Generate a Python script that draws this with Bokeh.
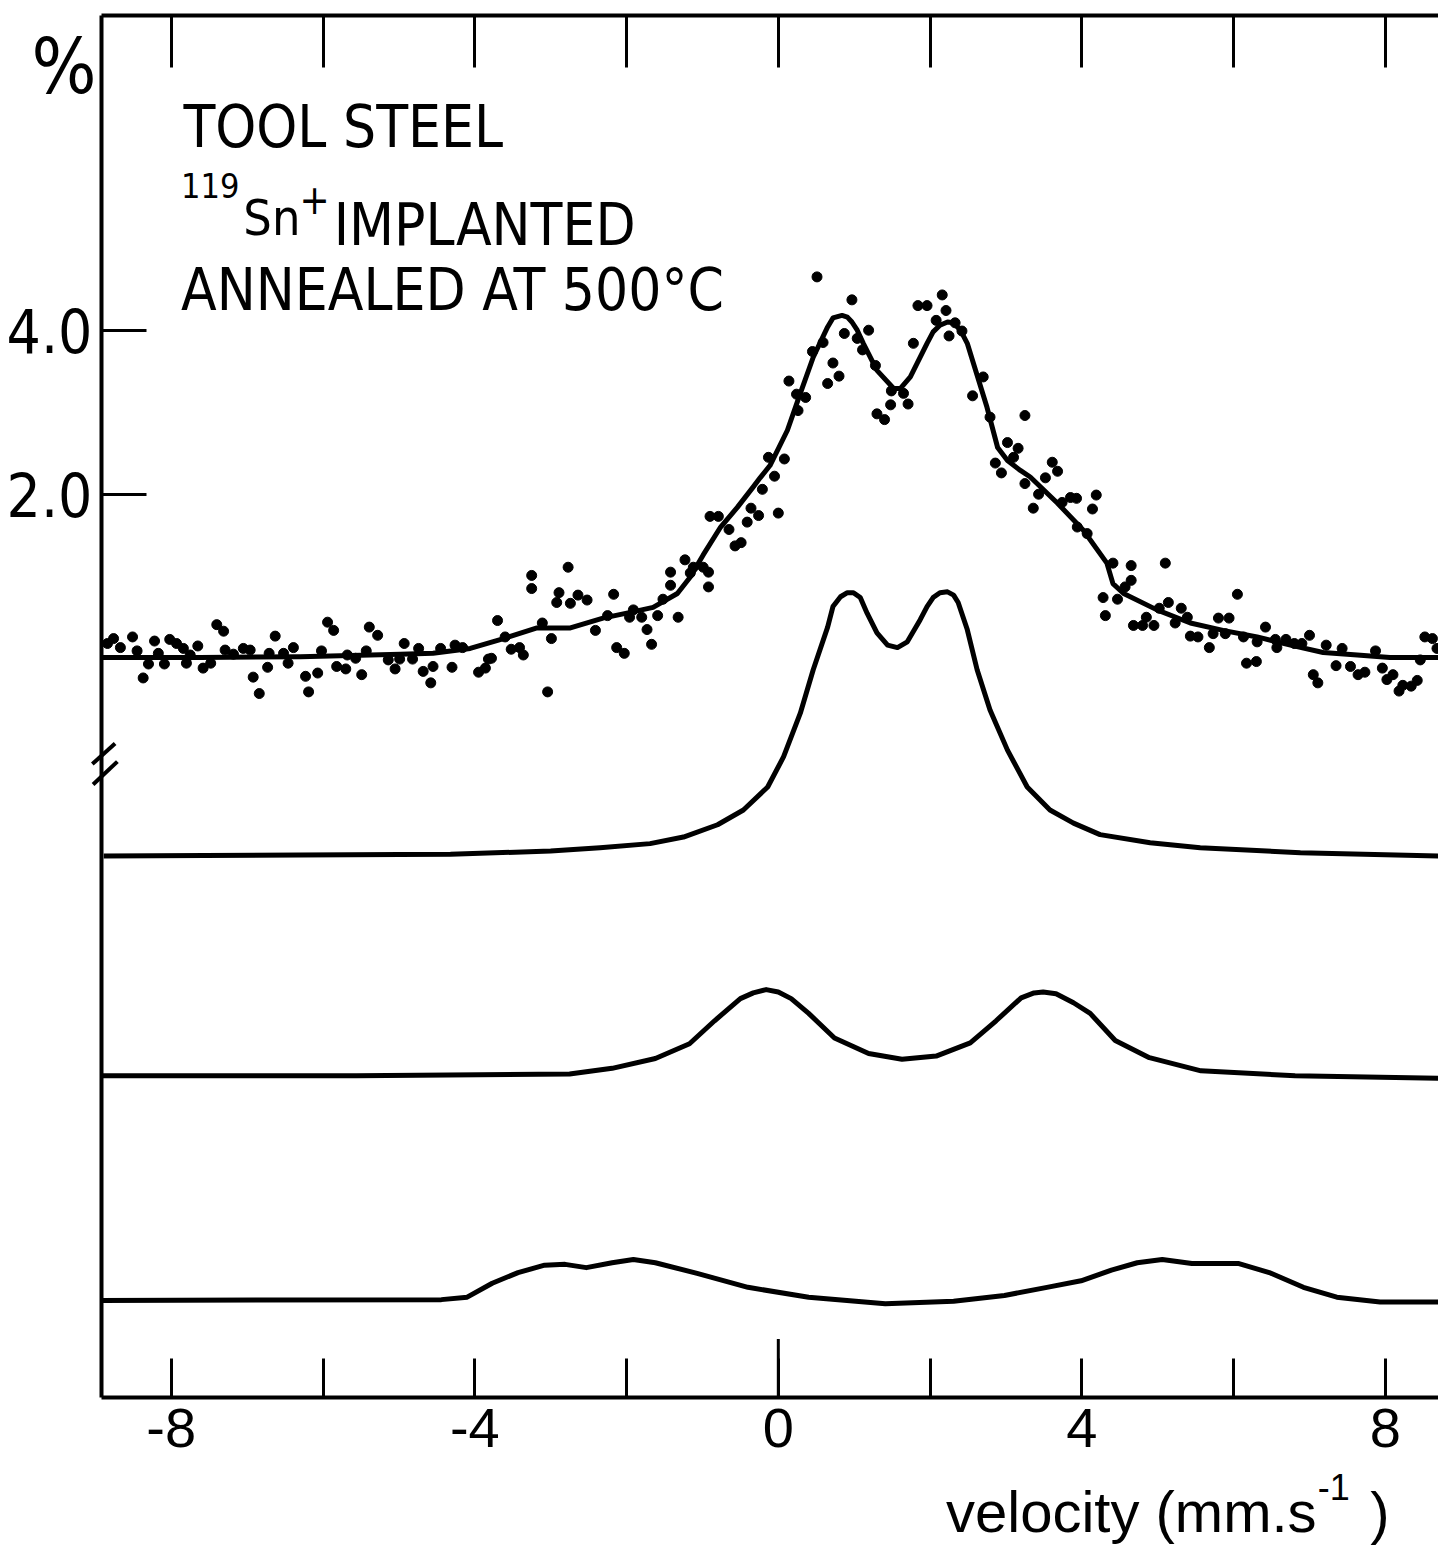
from bokeh.plotting import figure
from bokeh.models import LinearAxis, FixedTicker, NumeralTickFormatter, Label, Arrow, Range1d
from bokeh.embed import file_html
from bokeh.resources import INLINE

# ---------------- data (velocity in mm/s, absorption in %) ----------------
fit_v = [-8.92, -7.62, -6.30, -4.98, -4.55, -4.06, -3.62, -3.18, -2.74, -2.31, -1.95, -1.65, -1.33, -1.16,
         -0.99, -0.76, -0.54, -0.33, -0.24, -0.11, 0.12, 0.29, 0.46, 0.65, 0.72, 0.84, 0.91, 0.97, 1.04,
         1.12, 1.30, 1.52, 1.61, 1.74, 1.96, 2.04, 2.13, 2.23, 2.31, 2.40, 2.49, 2.57, 2.75, 2.89, 3.02,
         3.19, 3.32, 3.68, 4.02, 4.33, 4.41, 4.55, 4.99, 5.43, 5.86, 6.31, 6.75, 7.18, 7.63, 8.06, 8.70]
fit_pct = [0.01, 0.01, 0.02, 0.05, 0.06, 0.12, 0.24, 0.37, 0.37, 0.49, 0.56, 0.62, 0.79, 0.99,
           1.26, 1.60, 1.84, 2.09, 2.20, 2.35, 2.78, 3.23, 3.67, 4.04, 4.15, 4.18, 4.16, 4.10, 4.00,
           3.84, 3.51, 3.29, 3.29, 3.43, 3.84, 3.98, 4.06, 4.10, 4.09, 4.00, 3.84, 3.60, 3.06, 2.57, 2.41,
           2.29, 2.21, 1.89, 1.56, 1.16, 0.91, 0.79, 0.59, 0.43, 0.34, 0.26, 0.16, 0.07, 0.04, 0.01, 0.01]

dots_v = [-8.76, -8.84, -8.67, -8.51, -8.45, -8.37, -8.30, -8.22, -8.17, -8.09, -8.02, -7.93, -7.84, -7.80,
          -7.75, -7.65, -7.58, -7.48, -7.40, -7.31, -7.29, -7.18, -7.05, -6.96, -6.92, -6.84, -6.73, -6.71,
          -6.63, -6.52, -6.46, -6.39, -6.23, -6.19, -6.07, -6.02, -5.94, -5.86, -5.82, -5.70, -5.68, -5.57,
          -5.49, -5.43, -5.39, -5.28, -5.14, -5.05, -4.99, -4.93, -4.82, -4.74, -4.68, -4.58, -4.55, -4.45,
          -4.30, -4.26, -4.16, -3.95, -3.86, -3.82,
          -3.78, -3.70, -3.60, -3.52, -3.41, -3.36, -3.25, -3.25, -3.11, -3.04, -2.99, -2.92, -2.89, -2.77,
          -2.74, -2.64, -2.52, -2.41, -2.25, -2.17, -2.13, -2.03, -1.96, -1.91, -1.80, -1.73, -1.67, -1.59,
          -1.52, -1.42, -1.42, -1.32, -1.23, -1.16, -1.12, -0.99, -0.92, -0.92, -0.90, -0.79, -0.65, -0.57,
          -0.49, -0.41, -0.36, -0.26, -0.21, -0.05, 0.00, -0.13, 0.08,
          0.14, 0.24, 0.26, 0.36, 0.45, 0.51, 0.59, 0.65, 0.72, 0.80, 0.87, 0.97, 1.04, 1.11, 1.19, 1.28,
          1.30, 1.40, 1.48, 1.49, 1.65, 1.71, 1.78, 1.84, 1.96, 2.08, 2.16, 2.21, 2.25, 2.33, 2.42, 2.70,
          2.56, 2.79, 2.86, 2.94, 3.02, 3.10, 3.16,
          3.25, 3.61, 3.68, 3.52, 3.25, 3.43, 3.36, 3.85, 3.93, 3.74, 4.19, 4.14, 3.94, 4.07, 4.41, 4.65,
          4.65, 5.10, 4.28, 4.47, 4.31, 4.57, 4.68, 4.80, 4.85, 4.95, 5.02, 5.14, 5.23, 5.31, 5.39, 5.43,
          5.53, 5.68, 5.73, 5.80, 5.89, 5.94, 6.05, 6.13, 6.17, 6.30, 6.31, 6.42, 6.55, 6.57, 6.69, 6.80,
          6.90, 7.00, 7.05, 7.11, 7.22, 7.35, 7.43, 7.54, 7.64, 7.73, 7.87, 7.96, 8.02, 8.10, 8.18, 8.23,
          8.34, 8.42, 8.46, 8.52, 8.62, 8.68]
dots_pct = [0.24, 0.18, 0.13, 0.26, 0.09, -0.24, -0.07, 0.21, 0.06, -0.07, 0.23, 0.18, 0.12, -0.06,
            0.04, 0.15, -0.12, -0.06, 0.41, 0.33, 0.10, 0.05, 0.12, 0.10, -0.23, -0.43, -0.11, 0.06,
            0.27, 0.06, -0.06, 0.13, -0.22, -0.41, -0.18, 0.09, 0.44, 0.34, -0.10, -0.13, 0.04, 0.00,
            -0.20, 0.09, 0.38, 0.28, -0.02, -0.13, -0.01, 0.18, -0.01, 0.12, -0.16, -0.30, -0.10, 0.12,
            -0.11, 0.16, 0.13, -0.17, -0.12, -0.01,
            0.00, 0.46, 0.26, 0.11, 0.13, 0.04, 1.01, 0.85, 0.43, -0.41, 0.24, 0.68, 0.80, 1.11,
            0.67, 0.77, 0.71, 0.34, 0.52, 0.78, 0.13, 0.06, 0.50, 0.59, 0.50, 0.35, 0.17, 0.52,
            0.72, 1.05, 0.89, 0.50, 1.20, 1.04, 1.11, 1.11, 1.05, 0.87, 1.73, 1.73, 1.57, 1.37,
            1.41, 1.66, 1.83, 1.74, 2.06, 2.22, 1.77, 2.45, 2.43,
            3.38, 3.22, 3.02, 3.18, 3.74, 4.65, 3.85, 3.35, 3.60, 3.44, 3.96, 4.37, 3.90, 3.76, 4.00, 3.57,
            2.98, 2.91, 3.09, 3.26, 3.23, 3.10, 3.84, 4.30, 4.30, 4.12, 4.43, 4.24, 3.93, 4.09, 3.99, 3.43,
            3.20, 2.94, 2.38, 2.26, 2.63, 2.45, 2.56,
            2.96, 2.39, 2.28, 2.20, 2.13, 2.00, 1.83, 1.96, 1.95, 1.90, 1.99, 1.82, 1.60, 1.52, 1.16, 1.13,
            0.95, 1.16, 0.74, 0.72, 0.52, 0.87, 0.40, 0.40, 0.50, 0.40, 0.61, 0.68, 0.43, 0.61, 0.50, 0.27,
            0.26, 0.13, 0.30, 0.49, 0.30, 0.49, 0.78, 0.26, -0.06, -0.04, 0.20, 0.38, 0.23, 0.13, 0.23, 0.18,
            0.18, 0.28, -0.20, -0.30, 0.16, -0.09, 0.12, -0.10, -0.20, -0.17, 0.09, -0.12, -0.26, -0.20, -0.40, -0.33,
            -0.34, -0.27, -0.02, 0.26, 0.24, 0.12]

# component sub-spectra (height above their own baseline, %)
c1_v = [-8.89, -6.30, -4.32, -3.00, -2.35, -1.69, -1.25, -0.80, -0.46, -0.14, 0.07, 0.29, 0.46, 0.65,
        0.72, 0.82, 0.91, 0.99, 1.08, 1.17, 1.30, 1.44, 1.57, 1.70, 1.87, 1.96, 2.04, 2.13, 2.23, 2.31,
        2.37, 2.49, 2.62, 2.79, 3.02, 3.28, 3.58, 3.89, 4.24, 4.90, 5.56, 6.88, 8.70]
c1_pct = [0.0, 0.01, 0.02, 0.06, 0.10, 0.15, 0.23, 0.38, 0.56, 0.84, 1.21, 1.74, 2.27, 2.79,
          3.04, 3.16, 3.21, 3.21, 3.15, 2.96, 2.72, 2.57, 2.54, 2.61, 2.88, 3.04, 3.15, 3.21, 3.22, 3.18,
          3.09, 2.76, 2.27, 1.78, 1.29, 0.84, 0.56, 0.40, 0.26, 0.16, 0.10, 0.04, 0.0]
c2_v = [-8.93, -5.56, -2.75, -2.19, -1.62, -1.17, -0.84, -0.50, -0.33, -0.16, 0.00, 0.17, 0.40, 0.74,
        1.19, 1.63, 2.08, 2.53, 2.87, 3.20, 3.37, 3.49, 3.66, 3.89, 4.11, 4.44, 4.89, 5.57, 6.81, 8.70]
c2_pct = [0.0, 0.0, 0.02, 0.09, 0.21, 0.39, 0.67, 0.94, 1.01, 1.05, 1.02, 0.94, 0.76, 0.46,
          0.27, 0.20, 0.24, 0.40, 0.67, 0.95, 1.01, 1.02, 1.00, 0.89, 0.76, 0.43, 0.22, 0.06, 0.0, -0.03]
c3_v = [-8.93, -4.44, -4.10, -3.77, -3.43, -3.08, -2.81, -2.53, -2.19, -1.91, -1.62, -1.07, -0.40, 0.40,
        1.41, 2.31, 2.98, 3.54, 3.99, 4.39, 4.73, 5.06, 5.45, 6.07, 6.47, 6.92, 7.36, 7.93, 8.70]
c3_pct = [0.0, 0.01, 0.04, 0.21, 0.34, 0.43, 0.44, 0.40, 0.46, 0.50, 0.46, 0.33, 0.16, 0.04,
          -0.04, -0.01, 0.06, 0.16, 0.24, 0.37, 0.46, 0.50, 0.45, 0.45, 0.34, 0.16, 0.04, -0.02, -0.02]

x_major_ticks = [-8, -4, 0, 4, 8]
x_minor_ticks = [-6, -2, 2, 6]
x_tick_labels = {-8: "-8", -4: "-4", 0: "0", 4: "4", 8: "8"}
y_ticks = [2.0, 4.0]

# ---------------- layout constants ----------------
CANVAS_X = (-10.25, 8.70)      # whole picture width in velocity units
CANVAS_Y = (-10.83, 8.02)      # whole picture height in % units
FRAME_X = (-8.92, 8.70)        # drawn box
FRAME_Y = (-9.01, 7.84)
comp_offsets = [-2.41, -5.09, -7.83]
zero_tick_top = -8.30
break_marks = [((-9.04, -1.29), (-8.74, -1.04)), ((-9.03, -1.54), (-8.71, -1.26))]
COND = "'DejaVu Sans Condensed', 'Liberation Sans', sans-serif"
SANS = "Liberation Sans"

p = figure(width=1438, height=1546, x_range=Range1d(*CANVAS_X), y_range=Range1d(*CANVAS_Y),
           output_backend="svg", toolbar_location=None, x_axis_location=None, y_axis_location=None,
           min_border=0, background_fill_color="white", border_fill_color="white")
p.outline_line_color = None
p.xgrid.visible = False
p.ygrid.visible = False

common = dict(axis_line_width=4, axis_line_color="black", major_tick_out=0, minor_tick_out=0,
              major_tick_line_width=3, minor_tick_line_width=3,
              major_tick_line_color="black", minor_tick_line_color="black")

bottom = LinearAxis(fixed_location=FRAME_Y[0], bounds=FRAME_X,
                    ticker=FixedTicker(ticks=x_major_ticks, minor_ticks=x_minor_ticks),
                    major_label_overrides=x_tick_labels,
                    major_tick_in=39, minor_tick_in=39,
                    major_label_text_font=SANS, major_label_text_font_size="56px",
                    major_label_text_color="black", major_label_standoff=12, **common)
p.add_layout(bottom, "below")

left = LinearAxis(fixed_location=FRAME_X[0], bounds=FRAME_Y,
                  ticker=FixedTicker(ticks=y_ticks), formatter=NumeralTickFormatter(format="0.0"),
                  major_tick_in=45, minor_tick_in=0,
                  major_label_text_font=COND, major_label_text_font_size="60px",
                  major_label_text_color="black", major_label_standoff=9, **common)
p.add_layout(left, "left")

top = LinearAxis(fixed_location=FRAME_Y[1], bounds=FRAME_X,
                 ticker=FixedTicker(ticks=x_major_ticks, minor_ticks=x_minor_ticks),
                 major_tick_in=52, minor_tick_in=52,
                 major_label_text_color=None, major_label_standoff=0, **common)
p.add_layout(top, "above")

# longer zero tick on the bottom axis
p.segment(x0=[0], y0=[FRAME_Y[0]], x1=[0], y1=[zero_tick_top], line_width=3, color="black")

# measured spectrum and fit
p.scatter(dots_v, dots_pct, size=10, color="black")
p.line(fit_v, fit_pct, line_width=5, color="black", line_join="round")

# sub-spectra
for (cv, cp), off in zip([(c1_v, c1_pct), (c2_v, c2_pct), (c3_v, c3_pct)], comp_offsets):
    p.line(cv, [y + off for y in cp], line_width=5, color="black", line_join="round")

# axis break marks
for (xs, ys), (xe, ye) in break_marks:
    p.add_layout(Arrow(end=None, x_start=xs, y_start=ys, x_end=xe, y_end=ye,
                       line_width=4, line_color="black"))

def lab(x, y, t, size, font=COND, align="left"):
    p.add_layout(Label(x=x, y=y, text=t, text_font=font, text_font_size=size,
                       text_baseline="middle", text_align=align, text_color="black"))

lab(-9.84, 7.22, "%", "76px")
lab(-7.84, 6.48, "TOOL STEEL", "58px")
lab(-7.87, 5.77, "119", "34px")
lab(-7.05, 5.37, "Sn", "50px")
lab(-6.31, 5.60, "+", "40px")
lab(-5.86, 5.28, "IMPLANTED", "58px")
lab(-7.87, 4.49, "ANNEALED AT 500°C", "58px")

lab(2.21, -10.40, "velocity (mm.s", "58px", SANS)
lab(7.11, -10.10, "-1", "36px", SANS)
lab(7.80, -10.41, ")", "58px", SANS)

open("out.html", "w").write(file_html(p, INLINE))
